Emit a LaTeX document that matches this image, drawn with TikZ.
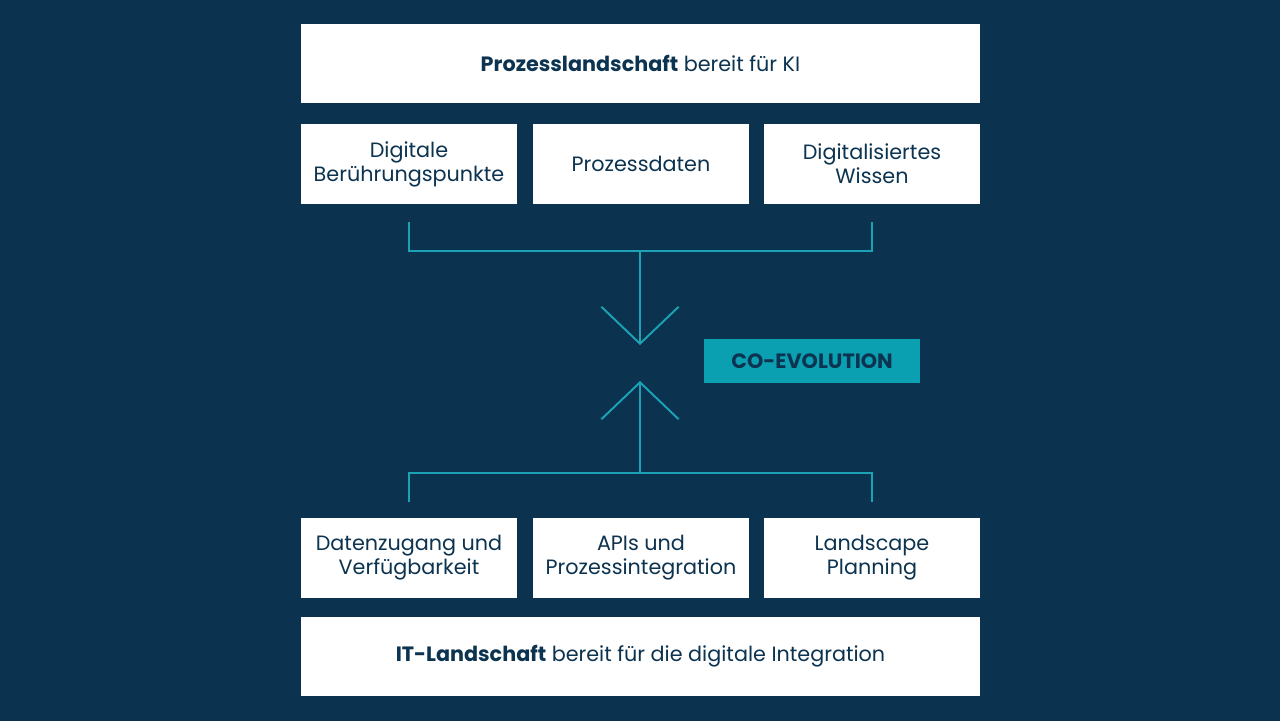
\documentclass[tikz,border=0pt]{standalone}
\usepackage{fontspec}
\setmainfont{Poppins}
\usetikzlibrary{arrows.meta}
\definecolor{bgnavy}{HTML}{0B3350}
\definecolor{tealc}{HTML}{1BA3B5}
\definecolor{tealbox}{HTML}{0AA0B2}
\definecolor{txtnavy}{HTML}{0C3350}
\begin{document}
\begin{tikzpicture}[x=0.02cm,y=-0.02cm,
  box/.style={draw=none,fill=white,inner sep=0pt,align=center,text=txtnavy,font=\fontsize{11.8}{13.6}\selectfont},
  wide/.style={box,minimum width=679*0.02cm,minimum height=79*0.02cm},
  small/.style={box,minimum width=216*0.02cm,minimum height=80*0.02cm},
  conn/.style={draw=tealc,line width=1.1pt},
  tipped/.style={conn,-{Straight Barb[length=21pt,width=44pt,line width=1.1pt]}}
]
\fill[bgnavy] (0,0) rectangle (1280,721);
\useasboundingbox (0,0) rectangle (1280,721);
\node[wide] (top) at (640.5,63.5) {\textbf{Prozesslandschaft} bereit für KI};
\node[small] (b1) at (409,164) {Digitale\\Berührungspunkte};
\node[small] (b2) at (641,164) {Prozessdaten};
\node[small] (b3) at (872,164) {Digitalisiertes\\Wissen};
\node[small] (c1) at (409,558) {Datenzugang und\\Verfügbarkeit};
\node[small] (c2) at (641,558) {APIs und\\Prozessintegration};
\node[small] (c3) at (872,558) {Landscape\\Planning};
\node[wide] (bottom) at (640.5,656.5) {\textbf{IT-Landschaft} bereit für die digitale Integration};
\node[fill=tealbox,minimum width=216*0.02cm,minimum height=44*0.02cm,inner sep=0pt,text=txtnavy,font=\bfseries\fontsize{11.8}{13}\selectfont] (coevo) at (812,361) {CO-EVOLUTION};
% top bracket
\coordinate (t1) at (409,222);
\coordinate (t3) at (872,222);
\coordinate (tj) at (640,251);
\coordinate (tip1) at (640,345);
\draw[conn] (t1) |- (tj) -| (t3);
\draw[tipped] (tj) -- (tip1);
% bottom bracket
\coordinate (u1) at (409,502);
\coordinate (u3) at (872,502);
\coordinate (uj) at (640,473);
\coordinate (tip2) at (640,381);
\draw[conn] (u1) |- (uj) -| (u3);
\draw[tipped] (uj) -- (tip2);
\end{tikzpicture}
\end{document}
